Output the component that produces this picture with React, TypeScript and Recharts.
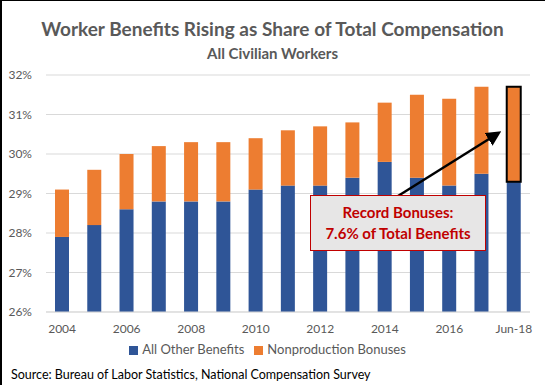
import React from 'react';
import { BarChart, Bar, XAxis, YAxis, CartesianGrid, Legend, Cell } from 'recharts';

// share of total compensation, %
const periods = ['2004', '2005', '2006', '2007', '2008', '2009', '2010', '2011', '2012', '2013', '2014', '2015', '2016', '2017', 'Jun-18'];
const otherBenefits = [27.9, 28.2, 28.6, 28.8, 28.8, 28.8, 29.1, 29.2, 29.2, 29.4, 29.8, 29.4, 29.2, 29.5, 29.3];
const bonuses = [1.2, 1.4, 1.4, 1.4, 1.5, 1.5, 1.3, 1.4, 1.5, 1.4, 1.5, 2.1, 2.2, 2.2, 2.4];
const yTicks = [26, 27, 28, 29, 30, 31, 32];

const BLUE = '#2F5597';
const ORANGE = '#ED7D31';
const GREY = '#595959';
const RED = '#C00000';
const FONT = 'Lato, "Open Sans", sans-serif';

const data = periods.map((p, i) => ({
  period: p,
  other: otherBenefits[i],
  bonus: bonuses[i],
}));

export default function App() {
  return (
    <div
      style={{
        position: 'absolute',
        left: 0,
        top: 0,
        width: 545,
        height: 385,
        background: '#fff',
        fontFamily: FONT,
        boxSizing: 'border-box',
        borderTop: '1px solid #000',
        borderLeft: '2px solid #000',
        overflow: 'hidden',
      }}
    >
      <div style={{ position: 'absolute', left: -2, top: 16, width: 545, textAlign: 'center', color: GREY, fontWeight: 700, fontSize: 19 }}>
        Worker Benefits Rising as Share of Total Compensation
      </div>
      <div style={{ position: 'absolute', left: -2, top: 43, width: 545, textAlign: 'center', color: GREY, fontWeight: 700, fontSize: 15 }}>
        All Civilian Workers
      </div>

      <div style={{ position: 'absolute', left: -2, top: -1 }}>
        <BarChart
          width={545}
          height={385}
          data={data}
          margin={{ top: 75, right: 15, bottom: 26, left: 10 }}
          barSize={14}
        >
          <CartesianGrid vertical={false} stroke="#D9D9D9" />
          <XAxis
            dataKey="period"
            interval={1}
            tickLine={false}
            axisLine={{ stroke: '#D9D9D9' }}
            tick={{ fill: GREY, fontSize: 12, fontFamily: FONT }}
            tickMargin={6}
            height={31}
          />
          <YAxis
            domain={[26, 32]}
            ticks={yTicks}
            allowDataOverflow
            width={36}
            axisLine={false}
            tickLine={false}
            tickFormatter={(v: number) => `${v}%`}
            tick={{ fill: GREY, fontSize: 12, fontFamily: FONT }}
            tickMargin={8}
          />
          <Legend
            verticalAlign="bottom"
            iconType="square"
            iconSize={9}
            wrapperStyle={{ top: 341, left: 0, width: 545, fontSize: 13, fontFamily: FONT }}
            formatter={(value: string) => <span style={{ color: GREY }}>{value}</span>}
          />
          <Bar dataKey="other" name="All Other Benefits" stackId="a" fill={BLUE} isAnimationActive={false} />
          <Bar dataKey="bonus" name="Nonproduction Bonuses" stackId="a" fill={ORANGE} isAnimationActive={false}>
            {data.map((d, i) => (
              <Cell
                key={d.period}
                fill={ORANGE}
                stroke={i === data.length - 1 ? '#000' : 'none'}
                strokeWidth={i === data.length - 1 ? 2 : 0}
              />
            ))}
          </Bar>
        </BarChart>
      </div>

      <svg style={{ position: 'absolute', left: -2, top: -1, pointerEvents: 'none' }} width={545} height={385}>
        <defs>
          <marker id="arrowHead" markerWidth="6" markerHeight="6" refX="4" refY="3" orient="auto" markerUnits="strokeWidth">
            <path d="M0,0 L6,3 L0,6 Z" fill="#000" />
          </marker>
        </defs>
        <line x1={398} y1={196} x2={497} y2={134} stroke="#000" strokeWidth={2.5} markerEnd="url(#arrowHead)" />
      </svg>

      <div
        style={{
          position: 'absolute',
          left: 308,
          top: 194,
          width: 176,
          height: 56,
          boxSizing: 'border-box',
          background: '#E7E6E6',
          border: `1.5px solid ${RED}`,
          color: RED,
          fontWeight: 700,
          fontSize: 15,
          textAlign: 'center',
          lineHeight: '21px',
          paddingTop: 6,
        }}
      >
        Record Bonuses:
        <br />
        7.6% of Total Benefits
      </div>

      <div style={{ position: 'absolute', left: 9, top: 366, fontSize: 12.5, color: '#000' }}>
        Source: Bureau of Labor Statistics, National Compensation Survey
      </div>
    </div>
  );
}
